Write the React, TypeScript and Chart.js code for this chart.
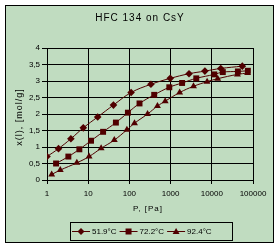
import React, { useEffect, useRef } from 'react';
import { Chart, registerables } from 'chart.js';

Chart.register(...registerables);

const chartTitle = 'HFC 134 on CsY';
const xTitle = 'P, [Pa]';
const yTitle = 'x(l), [mol/g]';
const seriesNames = ['51.9°C', '72.2°C', '92.4°C'];

const p1 = [1, 1.9, 3.8, 7.6, 17, 41, 110, 333, 980, 2800, 6800, 16500, 55000];
const x1 = [0.71, 0.95, 1.25, 1.58, 1.91, 2.27, 2.65, 2.9, 3.08, 3.22, 3.3, 3.38, 3.45];

const p2 = [1.66, 3.3, 6.1, 11.7, 23, 47, 92, 176, 400, 930, 1900, 4200, 11500, 18500, 43000, 75000];
const x2 = [0.5, 0.71, 0.93, 1.19, 1.46, 1.74, 2.04, 2.32, 2.58, 2.81, 2.94, 3.08, 3.2, 3.27, 3.29, 3.31];

const p3 = [1.3, 2.1, 5.3, 10.5, 20.6, 43, 87, 133, 276, 480, 740, 1660, 3600, 7700, 13900, 42000, 74000];
const x3 = [0.17, 0.3, 0.52, 0.71, 0.96, 1.21, 1.52, 1.72, 2.0, 2.24, 2.39, 2.65, 2.84, 2.98, 3.07, 3.2, 3.24];

const xTicks = [1, 10, 100, 1000, 10000, 100000];

const MARK = '#500000';
const BG = '#C0DCC0';
const FONT = '"Liberation Sans", Arial, sans-serif';
const styles = ['rectRot', 'rect', 'triangle'];
const radii = [3.8, 4.2, 4];

function drawMarker(ctx: CanvasRenderingContext2D, style: string, x: number, y: number) {
  ctx.beginPath();
  if (style === 'rectRot') {
    ctx.moveTo(x, y - 3.5); ctx.lineTo(x + 3.5, y); ctx.lineTo(x, y + 3.5); ctx.lineTo(x - 3.5, y);
  } else if (style === 'rect') {
    ctx.rect(x - 3, y - 3, 6, 6);
  } else {
    ctx.moveTo(x, y - 3.5); ctx.lineTo(x + 3.5, y + 2.5); ctx.lineTo(x - 3.5, y + 2.5);
  }
  ctx.closePath();
  ctx.fill();
}

const decorPlugin = {
  id: 'decor',
  beforeDraw(chart: any) {
    const ctx = chart.ctx as CanvasRenderingContext2D;
    ctx.save();
    ctx.fillStyle = '#fff';
    ctx.fillRect(0, 0, chart.width, chart.height);
    ctx.fillStyle = BG;
    ctx.fillRect(5, 5, 269, 238);
    ctx.strokeStyle = '#000';
    ctx.lineWidth = 1;
    ctx.strokeRect(5.5, 5.5, 268, 237);
    ctx.restore();
  },
  afterDraw(chart: any) {
    const ctx = chart.ctx as CanvasRenderingContext2D;
    const ca = chart.chartArea;
    ctx.save();
    ctx.fillStyle = '#000';
    ctx.textBaseline = 'middle';
    ctx.textAlign = 'center';
    ctx.font = `10px ${FONT}`;
    (ctx as any).letterSpacing = '1px';
    ctx.fillText(chartTitle, 140, 18);
    ctx.font = `8px ${FONT}`;
    ctx.fillText(xTitle, 148, 209);
    ctx.save();
    ctx.translate(20, (ca.top + ca.bottom) / 2 + 3);
    ctx.rotate(-Math.PI / 2);
    ctx.font = `9px ${FONT}`;
    ctx.fillText(yTitle, 0, 0);
    ctx.restore();
    (ctx as any).letterSpacing = '0px';
    ctx.font = `8px ${FONT}`;

    // legend
    ctx.strokeStyle = '#000';
    ctx.lineWidth = 1;
    ctx.strokeRect(70.5, 222.5, 162, 18);
    let x = 72;
    const ly = 231.5;
    ctx.textAlign = 'left';
    seriesNames.forEach((name, i) => {
      ctx.strokeStyle = MARK;
      ctx.beginPath();
      ctx.moveTo(x, ly);
      ctx.lineTo(x + 18, ly);
      ctx.stroke();
      ctx.fillStyle = MARK;
      drawMarker(ctx, styles[i], x + 9, ly);
      ctx.fillStyle = '#000';
      ctx.fillText(name, x + 20, ly);
      x += 20 + ctx.measureText(name).width + 3;
    });
    ctx.restore();
  },
};

export default function App() {
  const ref = useRef<HTMLCanvasElement | null>(null);
  useEffect(() => {
    if (!ref.current) return;
    const mk = (ps: number[], xs: number[], i: number) => ({
      label: seriesNames[i],
      data: ps.map((p, k) => ({ x: p, y: xs[k] })),
      borderColor: MARK,
      backgroundColor: MARK,
      borderWidth: 1,
      pointStyle: styles[i],
      pointRadius: radii[i],
      pointBorderWidth: 0,
      pointBackgroundColor: MARK,
      tension: 0.4,
      showLine: true,
    });
    const chart = new Chart(ref.current, {
      type: 'scatter',
      data: {
        datasets: [mk(p1, x1, 0), mk(p2, x2, 1), mk(p3, x3, 2)] as any,
      },
      options: {
        animation: false,
        responsive: false,
        layout: { padding: { left: 0, top: 48, right: 26, bottom: 0 } },
        plugins: { legend: { display: false }, tooltip: { enabled: false }, title: { display: false } },
        scales: {
          x: {
            type: 'logarithmic',
            min: 1,
            max: 100000,
            afterBuildTicks: (s: any) => { s.ticks = xTicks.map((v) => ({ value: v })); },
            afterFit: (s: any) => { s.height = 67; },
            ticks: {
              callback: (v: any) => String(v),
              color: '#000',
              font: { family: FONT, size: 8 },
              maxRotation: 0,
              autoSkip: false,
              padding: 5,
            },
            grid: { color: '#000', lineWidth: 1, tickLength: 4, drawTicks: true },
            border: { color: '#000', width: 1 },
          },
          y: {
            type: 'linear',
            min: 0,
            max: 4,
            afterFit: (s: any) => { s.width = 47; },
            ticks: {
              stepSize: 0.5,
              callback: (v: any) => String(v).replace('.', ','),
              color: '#000',
              font: { family: FONT, size: 8 },
              padding: 2,
            },
            grid: { color: '#000', lineWidth: 1, tickLength: 5, drawTicks: true },
            border: { color: '#000', width: 1 },
          },
        },
      } as any,
      plugins: [decorPlugin],
    });
    return () => chart.destroy();
  }, []);
  return (
    <div style={{ position: 'absolute', left: 0, top: 0, width: 279, height: 247 }}>
      <canvas ref={ref} width={279} height={247} style={{ display: 'block', width: 279, height: 247 }} />
    </div>
  );
}
